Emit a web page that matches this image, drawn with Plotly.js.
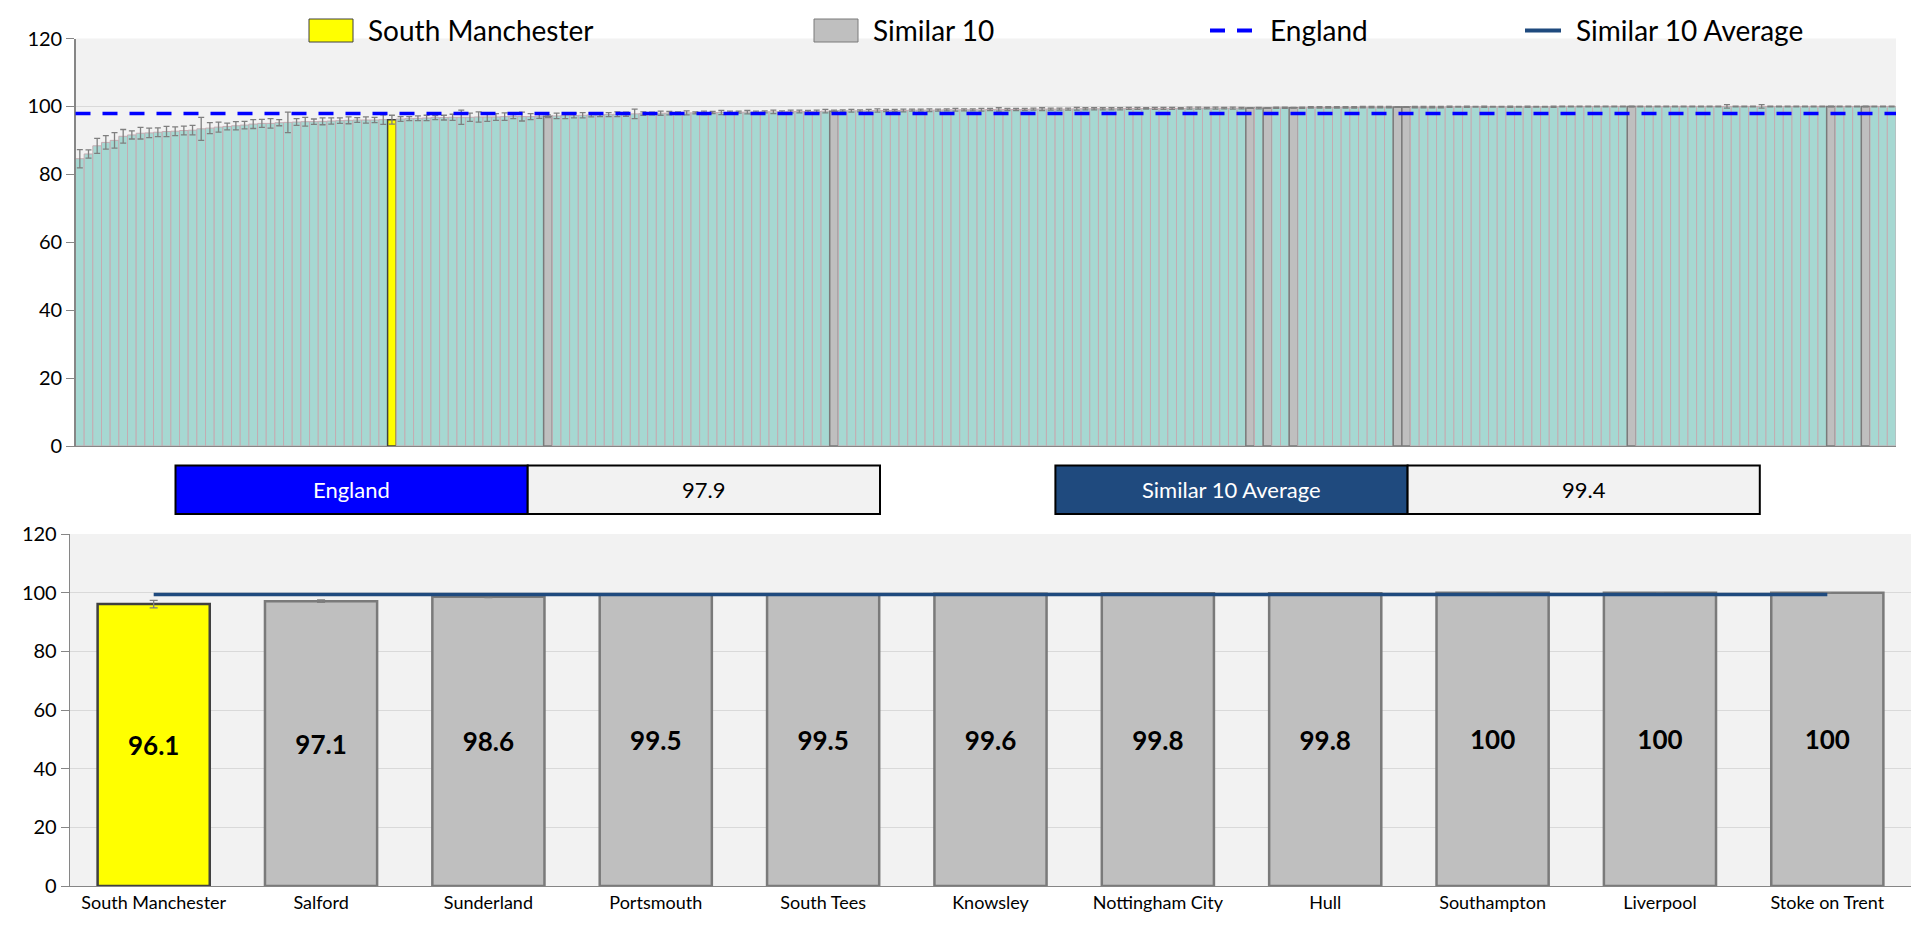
<!DOCTYPE html>
<html>
<head>
<meta charset="utf-8">
<script src="https://cdn.plot.ly/plotly-3.0.1.min.js"></script>
<style>
html,body{margin:0;padding:0;background:#fff;}
#chart{width:1911px;height:925px;}
</style>
</head>
<body>
<div id="chart"></div>
<script>
// ---------------- DATA ----------------
// Top chart: all providers ranked ascending (value, %)
var allValues = [
84.6, 86.0, 88.4, 89.4, 90.0, 91.2, 91.6, 92.1, 92.2, 92.4,
92.6, 92.7, 92.9, 93.0, 93.4, 93.6, 93.9, 94.1, 94.3, 94.5,
94.8, 95.0, 95.0, 95.2, 95.3, 95.4, 95.5, 95.5, 95.6, 95.7,
95.8, 95.9, 96.0, 96.0, 96.0, 96.1, 96.1, 96.3, 96.4, 96.5,
96.6, 96.7, 96.7, 96.8, 96.8, 96.8, 96.9, 96.9, 96.9, 97.0,
97.0, 97.0, 97.0, 97.1, 97.1, 97.2, 97.3, 97.3, 97.4, 97.5,
97.5, 97.6, 97.7, 97.7, 97.8, 97.9, 97.9, 98.0, 98.0, 98.0,
98.1, 98.1, 98.1, 98.2, 98.2, 98.2, 98.3, 98.3, 98.3, 98.4,
98.4, 98.4, 98.5, 98.5, 98.5, 98.5, 98.6, 98.6, 98.7, 98.7,
98.7, 98.7, 98.8, 98.8, 98.8, 98.8, 98.9, 98.9, 98.9, 98.9,
99.0, 99.0, 99.0, 99.0, 99.0, 99.1, 99.1, 99.1, 99.1, 99.1,
99.2, 99.2, 99.2, 99.2, 99.2, 99.3, 99.3, 99.3, 99.3, 99.3,
99.3, 99.4, 99.4, 99.4, 99.4, 99.4, 99.4, 99.4, 99.5, 99.5,
99.5, 99.5, 99.5, 99.5, 99.5, 99.5, 99.5, 99.5, 99.6, 99.6,
99.6, 99.6, 99.7, 99.7, 99.7, 99.7, 99.7, 99.7, 99.8, 99.8,
99.8, 99.8, 99.8, 99.8, 99.8, 99.8, 99.8, 99.8, 99.9, 99.9,
99.9, 99.9, 99.9, 99.9, 99.9, 99.9, 99.9, 99.9, 99.9, 99.9,
99.9, 100, 100, 100, 100, 100, 100, 100, 100, 100,
100, 100, 100, 100, 100, 100, 100, 100, 100, 100,
100, 100, 100, 100, 100, 100, 100, 100, 100, 100,
100, 100, 100, 100, 100, 100, 100, 100, 100, 100
];
// 95% CI half-widths for each ranked provider
var allErrors = [
2.7, 1.2, 2.2, 2.0, 2.3, 2.0, 1.2, 1.7, 1.4, 1.3,
1.5, 1.3, 1.3, 1.4, 3.4, 1.6, 1.5, 1.0, 1.2, 1.1,
1.3, 1.2, 1.4, 0.9, 3.0, 1.0, 1.3, 0.8, 1.0, 0.9,
0.8, 1.0, 0.7, 0.9, 0.8, 1.4, 1.3, 0.7, 0.6, 0.7,
0.8, 0.6, 0.7, 0.9, 2.1, 1.2, 1.5, 1.3, 1.0, 1.1,
0.6, 1.3, 0.9, 0.6, 0.4, 0.8, 0.9, 0.7, 0.8, 0.6,
0.5, 0.6, 0.7, 0.6, 1.4, 0.5, 0.4, 0.6, 0.5, 0.4,
0.6, 0.3, 0.5, 0.3, 0.6, 0.4, 0.3, 0.5, 0.3, 0.3,
0.5, 0.3, 0.4, 0.4, 0.3, 0.4, 0.5, 0.3, 0.3, 0.4,
0.3, 0.4, 0.5, 0.3, 0.3, 0.4, 0.3, 0.3, 0.4, 0.3,
0.3, 0.4, 0.3, 0.3, 0.4, 0.3, 0.5, 0.3, 0.3, 0.3,
0.3, 0.4, 0.3, 0.3, 0.3, 0.4, 0.3, 0.3, 0.3, 0.3,
0.3, 0.3, 0.3, 0.2, 0.3, 0.3, 0.3, 0.2, 0.3, 0.3,
0.2, 0.3, 0.2, 0.3, 0.2, 0.1, 0.2, 0.1, 0.2, 0.2,
0.1, 0.2, 0.2, 0.2, 0.2, 0.2, 0.2, 0.2, 0.2, 0.2,
0.2, 0.2, 0.1, 0.1, 0.2, 0.2, 0.2, 0.2, 0.2, 0.1,
0.2, 0.1, 0.2, 0.1, 0.1, 0.2, 0.1, 0.2, 0.1, 0.1,
0.2, 0.1, 0.1, 0.1, 0.1, 0.1, 0.1, 0.1, 0.1, 0.1,
0.1, 0.1, 0.1, 0.1, 0.1, 0.1, 0.1, 0.1, 0.1, 0.1,
0.5, 0.1, 0.1, 0.1, 0.5, 0.1, 0.1, 0.1, 0.1, 0.1,
0.1, 0.1, 0.1, 0.1, 0.1, 0.1, 0.1, 0.1, 0.1, 0.1
];
var southManchesterRank = 36;
var similarRanks = [54, 87, 135, 137, 140, 152, 153, 179, 202, 206];

// Bottom chart: South Manchester and its Similar 10
var bottomCategories = ['South Manchester', 'Salford', 'Sunderland', 'Portsmouth', 'South Tees',
  'Knowsley', 'Nottingham City', 'Hull', 'Southampton', 'Liverpool', 'Stoke on Trent'];
var bottomValues = [96.1, 97.1, 98.6, 99.5, 99.5, 99.6, 99.8, 99.8, 100, 100, 100];
var bottomErrors = [1.3, 0.4, 0.3, 0.1, 0.1, 0.1, 0.1, 0.1, 0.0, 0.0, 0.0];

var englandValue = 97.9;
var similarAverage = 99.4;

var legendLabels = ['South Manchester', 'Similar 10', 'England', 'Similar 10 Average'];

// ---------------- STYLE ----------------
var W = 1911, H = 925;
var FONT = 'Lato, "Open Sans", sans-serif';
var TEAL = 'rgb(166,216,210)', TEAL_LINE = 'rgb(196,172,178)';
var YELLOW = '#ffff00', GREY = '#bfbfbf', GREY_LINE = '#7a7a7a';
var ENG_BLUE = '#0000ff', AVG_BLUE = '#1f4a7e';
function px(x){ return x / W; }
function py(y){ return 1 - y / H; }

// top-chart colours per ranked bar
var topColors = [], topLineColors = [], topLineWidths = [];
for (var i = 0; i < allValues.length; i++) {
  if (i === southManchesterRank) { topColors.push(YELLOW); topLineColors.push('#404040'); topLineWidths.push(1.5); }
  else if (similarRanks.indexOf(i) >= 0) { topColors.push(GREY); topLineColors.push(GREY_LINE); topLineWidths.push(1.5); }
  else { topColors.push(TEAL); topLineColors.push(TEAL_LINE); topLineWidths.push(1); }
}
var topX = allValues.map(function(v, i){ return i; });

var bottomColors = bottomCategories.map(function(c, i){ return i === 0 ? YELLOW : GREY; });
var bottomLineColors = bottomCategories.map(function(c, i){ return i === 0 ? '#404040' : GREY_LINE; });

var traces = [
  {
    type: 'bar', x: topX, y: allValues, xaxis: 'x', yaxis: 'y', width: 1,
    marker: { color: topColors, line: { color: topLineColors, width: topLineWidths } },
    error_y: { type: 'data', array: allErrors, visible: true, color: '#7f7f7f', thickness: 1.3, width: 3 },
    showlegend: false, hoverinfo: 'y'
  },
  {
    type: 'bar', x: bottomCategories, y: bottomValues, xaxis: 'x2', yaxis: 'y2', width: 0.67,
    marker: { color: bottomColors, line: { color: bottomLineColors, width: 2.5 } },
    error_y: { type: 'data', array: bottomErrors, visible: true, color: '#7f7f7f', thickness: 1.3, width: 4 },
    text: bottomValues.map(function(v){ return String(v); }),
    textposition: 'inside', insidetextanchor: 'middle', textangle: 0, constraintext: 'none',
    textfont: { family: FONT, size: 26, color: '#000', weight: 'bold' },
    showlegend: false, hoverinfo: 'x+y'
  },
  {
    type: 'scatter', mode: 'lines', x: bottomCategories,
    y: bottomCategories.map(function(){ return similarAverage; }),
    xaxis: 'x2', yaxis: 'y2',
    line: { color: AVG_BLUE, width: 3.5 }, showlegend: false, hoverinfo: 'y'
  }
];

var axisCommon = {
  range: [0, 120], dtick: 20, tick0: 0, ticks: 'outside', ticklen: 8, tickcolor: '#868686',
  showline: true, linecolor: '#868686', linewidth: 1.3,
  showgrid: true, gridcolor: '#d9d9d9', gridwidth: 1, zeroline: false,
  tickfont: { family: FONT, size: 20, color: '#000' }, automargin: false, fixedrange: true
};

var layout = {
  width: W, height: H,
  margin: { l: 0, r: 0, t: 0, b: 0, pad: 0 },
  paper_bgcolor: '#ffffff', plot_bgcolor: '#f2f2f2',
  bargap: 0,
  font: { family: FONT, color: '#000' },
  xaxis: {
    domain: [px(75.5), px(1896)], anchor: 'y', range: [-0.5, allValues.length - 0.5],
    showticklabels: false, ticks: '', showgrid: false, zeroline: false,
    showline: true, linecolor: '#868686', linewidth: 1, fixedrange: true
  },
  yaxis: Object.assign({}, axisCommon, { domain: [py(446), py(38.5)], anchor: 'x' }),
  xaxis2: {
    domain: [px(70), 1], anchor: 'y2', type: 'category',
    showgrid: false, zeroline: false, ticks: '', showline: true, linecolor: '#868686', linewidth: 1.3,
    tickfont: { family: FONT, size: 18, color: '#000' }, automargin: false, fixedrange: true
  },
  yaxis2: Object.assign({}, axisCommon, { domain: [py(886), py(534)], anchor: 'x2' }),
  shapes: [
    // England reference line (top chart)
    { type: 'line', xref: 'x domain', yref: 'y', x0: 0, x1: 1, y0: englandValue, y1: englandValue,
      line: { color: ENG_BLUE, width: 3.5, dash: '15px,12px' }, layer: 'above' },
    // Legend symbols
    { type: 'rect', xref: 'paper', yref: 'paper', x0: px(309), x1: px(353), y0: py(42), y1: py(19),
      fillcolor: YELLOW, line: { color: '#404040', width: 1 } },
    { type: 'rect', xref: 'paper', yref: 'paper', x0: px(814), x1: px(858), y0: py(42), y1: py(19),
      fillcolor: GREY, line: { color: GREY_LINE, width: 1 } },
    { type: 'line', xref: 'paper', yref: 'paper', x0: px(1210), x1: px(1256), y0: py(30.5), y1: py(30.5),
      line: { color: ENG_BLUE, width: 4, dash: '15px,12px' } },
    { type: 'line', xref: 'paper', yref: 'paper', x0: px(1525), x1: px(1561), y0: py(30.5), y1: py(30.5),
      line: { color: AVG_BLUE, width: 4 } },
    // Summary boxes
    { type: 'rect', xref: 'paper', yref: 'paper', x0: px(175.5), x1: px(527.7), y0: py(514), y1: py(465.5),
      fillcolor: ENG_BLUE, line: { color: '#000', width: 2 } },
    { type: 'rect', xref: 'paper', yref: 'paper', x0: px(527.7), x1: px(880), y0: py(514), y1: py(465.5),
      fillcolor: '#f2f2f2', line: { color: '#000', width: 2 } },
    { type: 'rect', xref: 'paper', yref: 'paper', x0: px(1055.4), x1: px(1407.6), y0: py(514), y1: py(465.5),
      fillcolor: AVG_BLUE, line: { color: '#000', width: 2 } },
    { type: 'rect', xref: 'paper', yref: 'paper', x0: px(1407.6), x1: px(1759.8), y0: py(514), y1: py(465.5),
      fillcolor: '#f2f2f2', line: { color: '#000', width: 2 } }
  ],
  annotations: [
    { xref: 'paper', yref: 'paper', x: px(366), y: py(30.5), xanchor: 'left', yanchor: 'middle', showarrow: false,
      text: legendLabels[0], font: { family: FONT, size: 28, color: '#000' } },
    { xref: 'paper', yref: 'paper', x: px(871), y: py(30.5), xanchor: 'left', yanchor: 'middle', showarrow: false,
      text: legendLabels[1], font: { family: FONT, size: 28, color: '#000' } },
    { xref: 'paper', yref: 'paper', x: px(1268), y: py(30.5), xanchor: 'left', yanchor: 'middle', showarrow: false,
      text: legendLabels[2], font: { family: FONT, size: 28, color: '#000' } },
    { xref: 'paper', yref: 'paper', x: px(1574), y: py(30.5), xanchor: 'left', yanchor: 'middle', showarrow: false,
      text: legendLabels[3], font: { family: FONT, size: 28, color: '#000' } },
    { xref: 'paper', yref: 'paper', x: px(351.6), y: py(489.7), xanchor: 'center', yanchor: 'middle', showarrow: false,
      text: legendLabels[2], font: { family: FONT, size: 22, color: '#ffffff' } },
    { xref: 'paper', yref: 'paper', x: px(703.8), y: py(489.7), xanchor: 'center', yanchor: 'middle', showarrow: false,
      text: String(englandValue), font: { family: FONT, size: 22, color: '#000' } },
    { xref: 'paper', yref: 'paper', x: px(1231.5), y: py(489.7), xanchor: 'center', yanchor: 'middle', showarrow: false,
      text: legendLabels[3], font: { family: FONT, size: 22, color: '#ffffff' } },
    { xref: 'paper', yref: 'paper', x: px(1583.7), y: py(489.7), xanchor: 'center', yanchor: 'middle', showarrow: false,
      text: String(similarAverage), font: { family: FONT, size: 22, color: '#000' } }
  ]
};

Plotly.newPlot('chart', traces, layout, { displayModeBar: false, staticPlot: true });
</script>
</body>
</html>
